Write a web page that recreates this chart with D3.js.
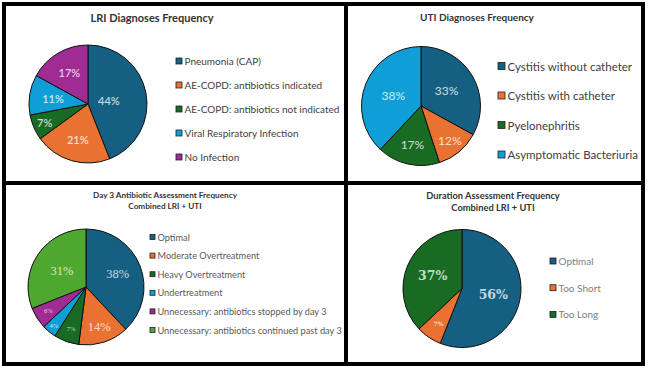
<!DOCTYPE html>
<html>
<head>
<meta charset="utf-8">
<script src="https://cdn.jsdelivr.net/npm/d3@7"></script>
<style>
  body { margin: 0; background: #fff; }
  svg { display: block; }
</style>
</head>
<body>
<svg id="chart" width="650" height="370"></svg>
<script>
// Data
const lriCategories = ["Pneumonia (CAP)", "AE-COPD: antibiotics indicated", "AE-COPD: antibiotics not indicated", "Viral Respiratory Infection", "No Infection"];
const lriValues = [44, 21, 7, 11, 17];

const utiCategories = ["Cystitis without catheter", "Cystitis with catheter", "Pyelonephritis", "Asymptomatic Bacteriuria"];
const utiValues = [33, 12, 17, 38];

const day3Categories = ["Optimal", "Moderate Overtreatment", "Heavy Overtreatment", "Undertreatment", "Unnecessary: antibiotics stopped by day 3", "Unnecessary: antibiotics continued past day 3"];
const day3Values = [38, 14, 7, 4, 6, 31];

const durationCategories = ["Optimal", "Too Short", "Too Long"];
const durationValues = [56, 7, 37];

// Office theme colours
const blue = "#156082", orange = "#E97132", green = "#196B24", sky = "#0F9ED5", purple = "#A02B93", lime = "#4EA72E";

const svg = d3.select("#chart");
svg.append("rect").attr("width", 650).attr("height", 370).attr("fill", "#fff");

const charts = [
  {
    title: ["LRI Diagnoses Frequency"], titleX: 152, titleY: 22, titleSize: 11,
    cats: lriCategories, vals: lriValues,
    colors: [blue, orange, green, sky, purple],
    cx: 88, cy: 104, r: 59,
    labelK: [0.36, 0.62, 0.8, 0.6, 0.62],
    labelSize: [11, 11, 11, 11, 11], labelFont: "Lato, sans-serif", labelWeight: 600,
    legX: 176, legY: 61, legStep: 24, legSize: 10, legBox: 6, legColor: "#404040"
  },
  {
    title: ["UTI Diagnoses Frequency"], titleX: 477, titleY: 21, titleSize: 10,
    cats: utiCategories, vals: utiValues,
    colors: [blue, orange, green, sky],
    cx: 421, cy: 106, r: 59.5,
    labelK: [0.5, 0.76, 0.66, 0.5],
    labelSize: [12, 12, 12, 12], labelFont: "Lato, sans-serif", labelWeight: 500,
    legX: 498, legY: 66, legStep: 29.5, legSize: 11.5, legBox: 7, legColor: "#404040"
  },
  {
    title: ["Day 3 Antibiotic Assessment Frequency", "Combined LRI + UTI"], titleX: 165, titleY: 198, titleSize: 8.2,
    cats: day3Categories, vals: day3Values,
    colors: [blue, orange, green, sky, purple, lime],
    cx: 86, cy: 287, r: 58,
    labelK: [0.59, 0.73, 0.76, 0.87, 0.77, 0.5],
    labelSize: [12.5, 12.5, 6.5, 6.5, 6.5, 12.5], labelFont: "'Liberation Serif', serif", labelWeight: 400,
    legX: 150, legY: 237, legStep: 18.6, legSize: 9.2, legBox: 5, legColor: "#595959"
  },
  {
    title: ["Duration Assessment Frequency", "Combined LRI + UTI"], titleX: 493, titleY: 199, titleSize: 9.3,
    cats: durationCategories, vals: durationValues,
    colors: [blue, orange, green],
    cx: 462, cy: 288.5, r: 59,
    labelK: [0.54, 0.71, 0.54],
    labelSize: [12.5, 6, 12.5], labelFont: "'DejaVu Serif', serif", labelWeight: 700,
    legX: 550, legY: 261, legStep: 26.7, legSize: 10, legBox: 6, legColor: "#808080"
  }
];

const pie = d3.pie().sort(null).value(d => d);

charts.forEach(c => {
  const g = svg.append("g");

  // title
  c.title.forEach((t, i) => {
    g.append("text")
      .attr("x", c.titleX)
      .attr("y", c.titleY + i * c.titleSize * 1.3)
      .attr("text-anchor", "middle")
      .attr("font-family", "Lato, sans-serif")
      .attr("font-weight", 700)
      .attr("font-size", c.titleSize)
      .attr("fill", "#333")
      .text(t);
  });

  // slices
  const arcs = pie(c.vals);
  const arc = d3.arc().innerRadius(0).outerRadius(c.r);
  const pg = g.append("g").attr("transform", `translate(${c.cx},${c.cy})`);
  pg.selectAll("path")
    .data(arcs)
    .join("path")
    .attr("d", arc)
    .attr("fill", (d, i) => c.colors[i])
    .attr("stroke", "#111")
    .attr("stroke-width", 1);

  // percentage labels
  pg.selectAll("text")
    .data(arcs)
    .join("text")
    .attr("transform", (d, i) => {
      const k = c.r * c.labelK[i];
      return `translate(${d3.arc().innerRadius(k).outerRadius(k).centroid(d)})`;
    })
    .attr("text-anchor", "middle")
    .attr("dominant-baseline", "central")
    .attr("font-family", c.labelFont)
    .attr("font-weight", c.labelWeight)
    .attr("font-size", (d, i) => c.labelSize[i])
    .attr("fill", (d, i) => d3.interpolateRgb(c.colors[i], "#fff")(0.75))
    .text(d => d.data + "%");

  // legend
  const lg = g.append("g").attr("transform", `translate(${c.legX},${c.legY})`);
  const item = lg.selectAll("g")
    .data(c.cats)
    .join("g")
    .attr("transform", (d, i) => `translate(0,${i * c.legStep})`);
  item.append("rect")
    .attr("x", 0)
    .attr("y", -c.legBox / 2)
    .attr("width", c.legBox)
    .attr("height", c.legBox)
    .attr("fill", (d, i) => c.colors[i])
    .attr("stroke", "#222")
    .attr("stroke-width", 0.8);
  item.append("text")
    .attr("x", c.legBox + 2.5)
    .attr("dominant-baseline", "central")
    .attr("font-family", "Lato, sans-serif")
    .attr("font-size", c.legSize)
    .attr("fill", c.legColor)
    .text(d => d);
});

// panel frame
const frame = svg.append("g")
  .attr("fill", "none")
  .attr("stroke", "#000")
  .attr("stroke-width", 4);
frame.append("rect").attr("x", 4).attr("y", 4).attr("width", 639).attr("height", 360);
frame.append("line").attr("x1", 346).attr("x2", 346).attr("y1", 4).attr("y2", 364);
frame.append("line").attr("x1", 4).attr("x2", 643).attr("y1", 183).attr("y2", 183);
</script>
</body>
</html>
